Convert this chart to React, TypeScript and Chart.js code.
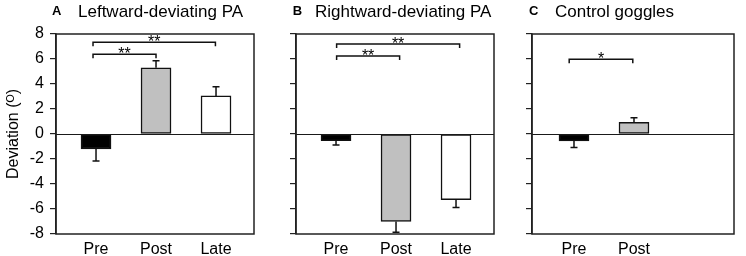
import React, { useEffect, useRef } from 'react';
import { Chart, registerables } from 'chart.js';
Chart.register(...registerables);

const FONT = '"Liberation Sans", Arial, Helvetica, sans-serif';

// ---- data ----
const categoriesAB = ['Pre', 'Post', 'Late'];
const categoriesC = ['Pre', 'Post'];
const leftwardMeans = [-1.2, 5.3, 3.05];
const leftwardErrors = [0.96, 0.56, 0.74];
const rightwardMeans = [-0.53, -7.0, -5.25];
const rightwardErrors = [0.35, 0.86, 0.62];
const controlMeans = [-0.55, 0.94];
const controlErrors = [0.52, 0.36];
const yMin = -8;
const yMax = 8;
const yStep = 2;
const yTitle = 'Deviation (ᴼ)';
const barColors = ['#000000', '#c0c0c0', '#ffffff'];
// significance brackets: [fromCategory, toCategory, height, label]
const leftwardBrackets: [number, number, number, string][] = [
  [-0.05, 1.0, 6.38, '**'],
  [-0.05, 1.99, 7.34, '**'],
];
const rightwardBrackets: [number, number, number, string][] = [
  [0.01, 1.06, 6.24, '**'],
  [0.01, 2.06, 7.2, '**'],
];
const controlBrackets: [number, number, number, string][] = [
  [-0.08, 0.98, 5.98, '*'],
];

interface PanelSpec {
  letter: string;
  title: string;
  categories: string[];
  means: number[];
  errors: number[];
  brackets: [number, number, number, string][];
  left: number;
  width: number;
  axisWidth: number;
  padRight: number;
  xMin: number;
  xMax: number;
  showLabels: boolean;
  letterX: number;
  textX: number;
}

const panels: PanelSpec[] = [
  {
    letter: 'A', title: 'Leftward-deviating PA', categories: categoriesAB,
    means: leftwardMeans, errors: leftwardErrors, brackets: leftwardBrackets,
    left: 0, width: 270, axisWidth: 56, padRight: 16, xMin: -0.667, xMax: 2.633,
    showLabels: true, letterX: 52, textX: 78,
  },
  {
    letter: 'B', title: 'Rightward-deviating PA', categories: categoriesAB,
    means: rightwardMeans, errors: rightwardErrors, brackets: rightwardBrackets,
    left: 270, width: 240, axisWidth: 26, padRight: 16, xMin: -0.667, xMax: 2.633,
    showLabels: false, letterX: 22.7, textX: 45,
  },
  {
    letter: 'C', title: 'Control goggles', categories: categoriesC,
    means: controlMeans, errors: controlErrors, brackets: controlBrackets,
    left: 510, width: 236, axisWidth: 22, padRight: 12, xMin: -0.7, xMax: 2.667,
    showLabels: false, letterX: 19, textX: 45,
  },
];

const decorPlugin = {
  id: 'panelDecor',
  afterDatasetsDraw(chart: any, _args: any, opts: any) {
    const spec: PanelSpec = opts.spec;
    if (!spec) return;
    const ctx = chart.ctx;
    const { left, right, top, bottom } = chart.chartArea;
    const xs = chart.scales.x;
    const ys = chart.scales.y;
    ctx.save();
    // zero line
    const y0 = Math.round(ys.getPixelForValue(0)) + 0.5;
    ctx.strokeStyle = '#1a1a1a';
    ctx.lineWidth = 1;
    ctx.beginPath();
    ctx.moveTo(left, y0);
    ctx.lineTo(right, y0);
    ctx.stroke();
    // box
    ctx.strokeStyle = '#222';
    ctx.lineWidth = 1.5;
    ctx.strokeRect(left, top, right - left, bottom - top);
    // error bars (outward only)
    ctx.strokeStyle = '#111';
    ctx.lineWidth = 1.5;
    spec.means.forEach((m, i) => {
      const e = spec.errors[i];
      const x = xs.getPixelForValue(i);
      const yA = ys.getPixelForValue(m);
      const yB = ys.getPixelForValue(m + (m >= 0 ? e : -e));
      ctx.beginPath();
      ctx.moveTo(x, yA);
      ctx.lineTo(x, yB);
      ctx.moveTo(x - 3.5, yB);
      ctx.lineTo(x + 3.5, yB);
      ctx.stroke();
    });
    // brackets
    ctx.fillStyle = '#000';
    ctx.font = `16px ${FONT}`;
    ctx.textAlign = 'center';
    ctx.textBaseline = 'alphabetic';
    spec.brackets.forEach(([a, b, h, label]) => {
      const x1 = xs.getPixelForValue(a);
      const x2 = xs.getPixelForValue(b);
      const y = ys.getPixelForValue(h);
      ctx.beginPath();
      ctx.moveTo(x1, y + 4);
      ctx.lineTo(x1, y);
      ctx.lineTo(x2, y);
      ctx.lineTo(x2, y + 4);
      ctx.stroke();
      ctx.fillText(label, (x1 + x2) / 2, y + 4.5);
    });
    // title
    ctx.textAlign = 'left';
    ctx.font = `bold 13px ${FONT}`;
    ctx.fillText(spec.letter, spec.letterX, 15);
    ctx.font = `17px ${FONT}`;
    ctx.fillText(spec.title, spec.textX, 17);
    ctx.restore();
  },
};

function makeConfig(p: PanelSpec): any {
  return {
    type: 'bar',
    data: {
      datasets: [
        {
          data: p.means.map((v, i) => ({ x: i, y: v })),
          backgroundColor: p.means.map((_, i) => barColors[i]),
          borderColor: '#111',
          borderWidth: 1.5,
          borderSkipped: false,
          barThickness: 30,
        },
      ],
    },
    options: {
      animation: false,
      responsive: false,
      maintainAspectRatio: false,
      layout: { padding: { left: 0, right: p.padRight, top: 34, bottom: 0 } },
      plugins: {
        legend: { display: false },
        tooltip: { enabled: false },
        title: { display: false },
        panelDecor: { spec: p },
      },
      scales: {
        x: {
          type: 'linear',
          offset: false,
          min: p.xMin,
          max: p.xMax,
          afterBuildTicks: (s: any) => {
            s.ticks = p.categories.map((_, i) => ({ value: i }));
          },
          afterFit: (s: any) => {
            s.height = 22;
          },
          grid: { display: false, drawTicks: false, offset: false },
          border: { display: false },
          ticks: {
            callback: (v: any) => p.categories[Math.round(v)] ?? '',
            font: { family: FONT, size: 16 },
            color: '#000',
            padding: 6,
            maxRotation: 0,
            autoSkip: false,
          },
        },
        y: {
          min: yMin,
          max: yMax,
          afterFit: (s: any) => {
            s.width = p.axisWidth;
          },
          ticks: {
            stepSize: yStep,
            display: p.showLabels,
            font: { family: FONT, size: 16 },
            color: '#000',
            padding: 6,
          },
          grid: {
            drawOnChartArea: false,
            drawTicks: true,
            tickLength: 6,
            color: '#222',
            lineWidth: 1.2,
          },
          border: { display: true, color: '#222', width: 1.5 },
          title: {
            display: p.showLabels,
            text: yTitle,
            font: { family: FONT, size: 16 },
            color: '#000',
            padding: { top: 4, bottom: 0 },
          },
        },
      },
    },
    plugins: [decorPlugin],
  };
}

function Panel({ spec }: { spec: PanelSpec }) {
  const ref = useRef<HTMLCanvasElement>(null);
  useEffect(() => {
    if (!ref.current) return;
    const chart = new Chart(ref.current, makeConfig(spec));
    return () => chart.destroy();
  }, [spec]);
  return (
    <canvas
      ref={ref}
      width={spec.width}
      height={256}
      style={{ position: 'absolute', left: spec.left, top: 0, width: spec.width, height: 256 }}
    />
  );
}

export default function App() {
  return (
    <div style={{ position: 'absolute', left: 0, top: 0, width: 746, height: 256, background: '#fff' }}>
      {panels.map((p) => (
        <Panel key={p.letter} spec={p} />
      ))}
    </div>
  );
}
